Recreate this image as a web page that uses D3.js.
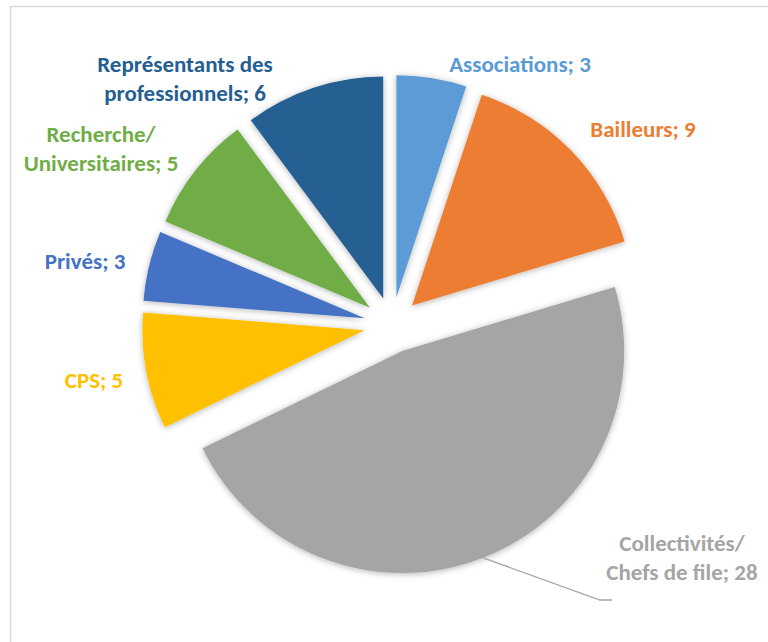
<!DOCTYPE html>
<html>
<head>
<meta charset="utf-8">
<script src="https://cdn.jsdelivr.net/npm/d3@7"></script>
<style>
  html, body { margin: 0; padding: 0; background: #fff; }
  svg { display: block; }
  .label { font-family: Carlito, Calibri, Lato, sans-serif; font-weight: bold; }
</style>
</head>
<body>
<svg id="chart" width="768" height="642"></svg>
<script>
// data
const categories = ['Associations', 'Bailleurs', 'Collectivités/ Chefs de file', 'CPS', 'Privés', 'Recherche/ Universitaires', 'Représentants des professionnels'];
const values = [3, 9, 28, 5, 3, 5, 6];
const labelLines = [
    ['Associations; 3'],
    ['Bailleurs; 9'],
    ['Collectivités/', 'Chefs de file; 28'],
    ['CPS; 5'],
    ['Privés; 3'],
    ['Recherche/', 'Universitaires; 5'],
    ['Représentants des', 'professionnels; 6']
];

// layout: first-line baseline of each label
const colors = ['#5B9BD5', '#ED7D31', '#A5A5A5', '#FFC000', '#4472C4', '#70AD47', '#255E91'];
const labelXY = [[520, 72], [643, 137], [682, 551], [94, 388], [85, 269], [101, 142], [185, 72]];
const sizes = {cx: 392, cy: 325, radius: 222, explode: 28, fontSize: 23, lineGap: 29};

const svg = d3.select('#chart');

// chart area border (only top and left edges show)
svg.append('rect')
    .attr('x', 10.5)
    .attr('y', 6.5)
    .attr('width', 900)
    .attr('height', 900)
    .attr('fill', 'none')
    .attr('stroke', '#d9d9d9')
    .attr('stroke-width', 1.5);

const defs = svg.append('defs');
const shadow = defs.append('filter')
    .attr('id', 'soft')
    .attr('x', '-20%').attr('y', '-20%')
    .attr('width', '140%').attr('height', '140%');
shadow.append('feDropShadow')
    .attr('dx', 0)
    .attr('dy', 1)
    .attr('stdDeviation', 3)
    .attr('flood-color', '#000')
    .attr('flood-opacity', 0.3);

const pie = d3.pie().sort(null).value(d => d)(values);
const arc = d3.arc().innerRadius(0).outerRadius(sizes.radius);

const offset = d => {
    const mid = (d.startAngle + d.endAngle) / 2;
    return [sizes.explode * Math.sin(mid), -sizes.explode * Math.cos(mid)];
};

const slices = svg.append('g')
    .attr('transform', `translate(${sizes.cx}, ${sizes.cy})`);

slices.selectAll('path')
    .data(pie)
    .enter()
    .append('path')
        .attr('d', arc)
        .attr('fill', (d, i) => colors[i])
        .attr('filter', 'url(#soft)')
        .attr('transform', d => `translate(${offset(d)})`);

// leader line for the big slice
const big = pie[2];
const bigMid = (big.startAngle + big.endAngle) / 2;
const [ox, oy] = offset(big);
const start = [sizes.cx + ox + sizes.radius * Math.sin(bigMid), sizes.cy + oy - sizes.radius * Math.cos(bigMid)];
svg.append('polyline')
    .attr('points', [start, [600, 600], [612, 600]].map(p => p.join(',')).join(' '))
    .attr('fill', 'none')
    .attr('stroke', '#a6a6a6')
    .attr('stroke-width', 1.3);

// labels
const labels = svg.append('g');
labelLines.forEach((lines, i) => {
    const t = labels.append('text')
        .classed('label', true)
        .attr('x', labelXY[i][0])
        .attr('y', labelXY[i][1])
        .attr('text-anchor', 'middle')
        .attr('font-size', sizes.fontSize)
        .attr('fill', colors[i]);
    lines.forEach((line, j) => {
        t.append('tspan')
            .attr('x', labelXY[i][0])
            .attr('dy', j === 0 ? 0 : sizes.lineGap)
            .text(line);
    });
});
</script>
</body>
</html>
